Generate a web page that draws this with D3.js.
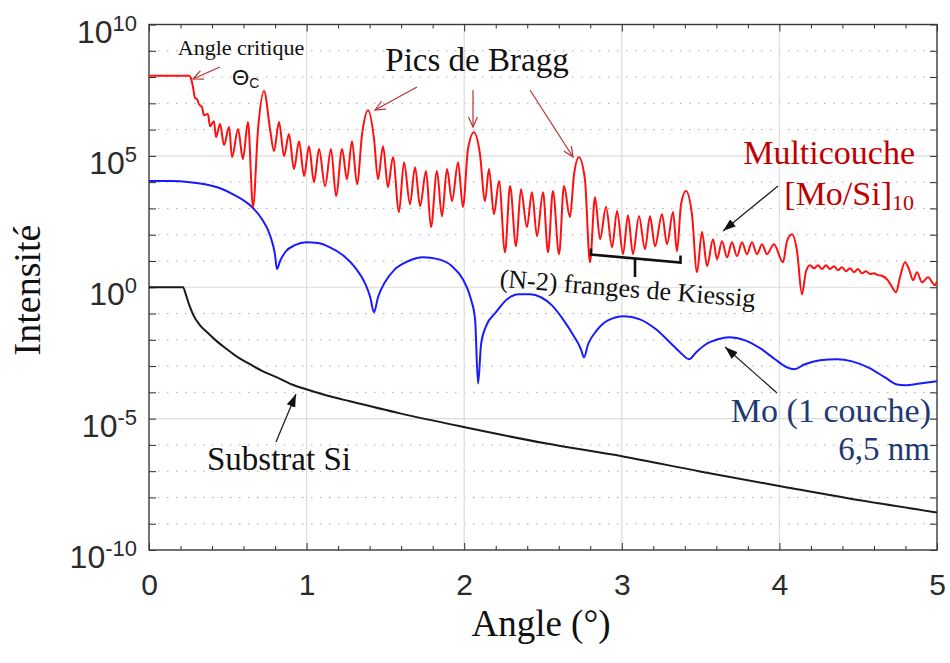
<!DOCTYPE html>
<html><head><meta charset="utf-8">
<script src="https://cdn.jsdelivr.net/npm/d3@7"></script>
<style>body{margin:0;background:#fff}</style>
</head><body>
<svg id="c" width="950" height="663"></svg>
<script>
// ---------- DATA ----------
const xTicks = [0, 1, 2, 3, 4, 5];
const xTickLabels = ["0", "1", "2", "3", "4", "5"];
const yTickExps = [-10, -5, 0, 5, 10];

// Multicouche [Mo/Si]10 : angle (°) and log10(intensity)
const redAngle = [0,0.254,0.266,0.279,0.292,0.305,0.317,0.336,0.349,0.374,0.387,0.412,0.425,0.451,0.476,0.508,0.527,0.565,0.596,0.628,0.660,0.692,0.730,0.768,0.793,0.825,0.857,0.888,0.920,0.952,0.984,1.015,1.047,1.079,1.117,1.155,1.187,1.225,1.256,1.288,1.320,1.352,1.390,1.428,1.453,1.485,1.516,1.548,1.586,1.618,1.656,1.688,1.720,1.758,1.789,1.827,1.859,1.891,1.923,1.961,1.992,2.024,2.062,2.100,2.132,2.157,2.189,2.221,2.259,2.291,2.329,2.360,2.398,2.430,2.462,2.500,2.532,2.563,2.602,2.633,2.671,2.697,2.728,2.766,2.798,2.830,2.862,2.900,2.938,2.970,3.008,3.039,3.071,3.109,3.147,3.179,3.211,3.255,3.287,3.325,3.350,3.376,3.407,3.445,3.477,3.509,3.541,3.579,3.604,3.636,3.668,3.699,3.731,3.763,3.794,3.826,3.858,3.890,3.921,3.965,4.023,4.048,4.080,4.112,4.143,4.169,4.194,4.220,4.245,4.270,4.296,4.321,4.346,4.372,4.397,4.423,4.448,4.473,4.499,4.524,4.550,4.575,4.600,4.626,4.657,4.683,4.708,4.740,4.765,4.797,4.822,4.848,4.873,4.905,4.943,4.987,5.0];
const redLog = [8.05,8.05,7.96,7.62,7.20,7.16,6.97,6.86,6.55,6.59,6.13,6.32,5.71,6.21,5.41,6.10,4.95,6.02,4.88,6.29,3.05,6.02,7.47,6.02,5.18,6.29,4.99,5.83,4.50,5.56,4.23,5.37,4.00,5.26,3.85,5.26,3.47,5.26,4.11,5.56,3.92,5.83,6.74,5.64,4.11,5.37,3.81,4.95,2.86,4.76,3.16,4.57,3.09,4.42,2.29,4.42,2.70,4.50,3.28,4.76,3.05,5.26,5.90,5.07,3.28,4.50,2.78,4.04,1.33,3.85,1.56,3.73,2.29,3.62,1.94,3.62,1.33,3.66,1.26,3.85,2.67,4.30,4.95,4.11,0.95,3.43,1.83,3.05,1.52,2.90,1.26,2.74,1.26,2.70,1.45,2.70,1.56,2.78,1.64,2.86,1.37,3.16,3.66,2.78,0.57,2.10,0.80,1.83,1.07,1.75,1.14,1.71,1.18,1.71,1.26,1.71,1.26,1.64,1.26,1.64,0.95,1.75,2.02,1.37,-0.27,0.61,0.84,0.72,0.84,0.69,0.84,0.69,0.80,0.65,0.76,0.61,0.72,0.57,0.69,0.53,0.61,0.50,0.53,0.46,0.42,0.30,0.08,-0.19,0.38,0.95,0.69,0.27,0.57,0.19,0.38,0.08,0.23];

// Mo (1 couche) 6,5 nm
const blueAngle = [0,0.133,0.260,0.355,0.451,0.546,0.641,0.717,0.768,0.799,0.812,0.831,0.869,0.926,0.996,1.072,1.148,1.231,1.307,1.371,1.402,1.428,1.453,1.497,1.561,1.643,1.739,1.834,1.923,1.992,2.043,2.069,2.088,2.107,2.138,2.202,2.272,2.348,2.418,2.487,2.557,2.627,2.697,2.741,2.760,2.786,2.836,2.912,3.014,3.115,3.217,3.306,3.376,3.426,3.471,3.534,3.610,3.680,3.782,3.877,3.972,4.048,4.093,4.162,4.258,4.365,4.461,4.562,4.670,4.746,4.797,4.892,5.0];
const blueLog = [4.04,4.04,4.00,3.92,3.77,3.50,3.12,2.59,1.98,1.26,0.69,0.99,1.37,1.60,1.71,1.68,1.52,1.22,0.76,0.15,-0.34,-0.95,-0.38,0.19,0.69,0.99,1.14,1.07,0.80,0.30,-0.46,-1.22,-3.66,-2.17,-1.49,-0.95,-0.46,-0.27,-0.27,-0.38,-0.69,-1.22,-1.87,-2.36,-2.67,-2.17,-1.68,-1.26,-1.10,-1.22,-1.60,-2.10,-2.51,-2.74,-2.48,-2.17,-1.98,-1.90,-2.02,-2.32,-2.74,-3.05,-3.12,-2.93,-2.78,-2.74,-2.82,-3.05,-3.43,-3.70,-3.73,-3.66,-3.58];

// Substrat Si
const blackAngle = [0,0.216,0.235,0.254,0.279,0.324,0.368,0.431,0.495,0.565,0.641,0.723,0.812,0.907,1.003,1.148,1.275,1.593,2.005,2.513,3.008,3.496,4.016,4.511,5.0];
const blackLog = [0,0,-0.30,-0.65,-1.03,-1.45,-1.71,-2.06,-2.36,-2.67,-2.93,-3.20,-3.43,-3.70,-3.89,-4.15,-4.34,-4.80,-5.33,-5.94,-6.44,-7.01,-7.58,-8.11,-8.57];

// ---------- CHART ----------
const svg = d3.select("#c");
const X0 = 149, X1 = 937, Y0 = 24.5, Y1 = 550;
const x = d3.scaleLinear().domain([0, 5]).range([X0, X1]);
const y = d3.scaleLog().domain([1e-10, 1e10]).range([Y1, Y0]);
const SANS = "'Liberation Sans', Arial, Helvetica, sans-serif";
const SERIF = "'Liberation Serif', 'Times New Roman', serif";
const AX = "#2b2b2b";

const defs = svg.append("defs");
defs.append("clipPath").attr("id", "clip").append("rect")
  .attr("x", X0).attr("y", Y0).attr("width", X1 - X0).attr("height", Y1 - Y0);
defs.append("marker").attr("id", "openRed").attr("markerUnits", "userSpaceOnUse")
  .attr("markerWidth", 14).attr("markerHeight", 12).attr("refX", 11).attr("refY", 6)
  .attr("orient", "auto").append("path").attr("d", "M1,1.5 L11,6 L1,10.5")
  .attr("fill", "none").attr("stroke", "#b83232").attr("stroke-width", 1.2);
defs.append("marker").attr("id", "fillBlack").attr("markerUnits", "userSpaceOnUse")
  .attr("markerWidth", 14).attr("markerHeight", 12).attr("refX", 13).attr("refY", 6)
  .attr("orient", "auto").append("path").attr("d", "M0,1.5 L13,6 L0,10.5 Z")
  .attr("fill", "#111");

// grid
const decades = d3.range(-9, 10);
svg.append("g").selectAll("line").data(decades).join("line")
  .attr("x1", X0).attr("x2", X1)
  .attr("y1", d => y(10 ** d)).attr("y2", d => y(10 ** d))
  .attr("stroke", d => d % 5 === 0 ? "#dcdcdc" : "#a8a8a8")
  .attr("stroke-width", d => d % 5 === 0 ? 1.2 : 1)
  .attr("stroke-dasharray", d => d % 5 === 0 ? null : "1.5,7.5");
svg.append("g").selectAll("line").data(xTicks.slice(1, -1)).join("line")
  .attr("x1", d => x(d)).attr("x2", d => x(d)).attr("y1", Y0).attr("y2", Y1)
  .attr("stroke", "#dcdcdc").attr("stroke-width", 1.2);

// axes (inward ticks, box)
const minorX = d3.range(0, 5.0001, 0.2).filter(v => Math.abs(v - Math.round(v)) > 1e-6);
const allDec = d3.range(-10, 11).map(e => 10 ** e);
function styleAxis(g) {
  g.select(".domain").remove();
  g.selectAll(".tick line").attr("stroke", AX).attr("stroke-width", 1);
}
svg.append("g").attr("transform", `translate(0,${Y1})`)
  .call(d3.axisBottom(x).tickValues(xTicks).tickSize(-7).tickPadding(24)
    .tickFormat((d, i) => xTickLabels[i]))
  .call(styleAxis)
  .call(g => g.selectAll("text").attr("font-family", SANS).attr("font-size", 30).attr("fill", AX));
svg.append("g").attr("transform", `translate(0,${Y1})`)
  .call(d3.axisBottom(x).tickValues(minorX).tickSize(-4).tickFormat("")).call(styleAxis);
svg.append("g").attr("transform", `translate(0,${Y0})`)
  .call(d3.axisTop(x).tickValues(xTicks).tickSize(-7).tickFormat("")).call(styleAxis);
svg.append("g").attr("transform", `translate(0,${Y0})`)
  .call(d3.axisTop(x).tickValues(minorX).tickSize(-4).tickFormat("")).call(styleAxis);
svg.append("g").attr("transform", `translate(${X0},0)`)
  .call(d3.axisLeft(y).tickValues(allDec).tickSize(-7).tickFormat("")).call(styleAxis);
svg.append("g").attr("transform", `translate(${X1},0)`)
  .call(d3.axisRight(y).tickValues(allDec).tickSize(-7).tickFormat("")).call(styleAxis);
svg.append("rect").attr("x", X0).attr("y", Y0).attr("width", X1 - X0).attr("height", Y1 - Y0)
  .attr("fill", "none").attr("stroke", "#3a3a3a").attr("stroke-width", 1.4);

// y tick labels with superscripts
const yl = svg.append("g").selectAll("text").data(yTickExps).join("text")
  .attr("x", 137).attr("y", d => y(10 ** d) + 18)
  .attr("text-anchor", "end").attr("font-family", SANS).attr("fill", AX);
yl.append("tspan").attr("font-size", 32).text("10");
yl.append("tspan").attr("font-size", 22).attr("dy", -12).text(d => String(d));

// curves
const line = d3.line().x(d => x(d[0])).y(d => y(10 ** d[1])).curve(d3.curveMonotoneX);
const plot = svg.append("g").attr("clip-path", "url(#clip)");
plot.append("path").datum(d3.zip(blackAngle, blackLog)).attr("d", line)
  .attr("fill", "none").attr("stroke", "#1a1a1a").attr("stroke-width", 2);
plot.append("path").datum(d3.zip(blueAngle, blueLog)).attr("d", line)
  .attr("fill", "none").attr("stroke", "#1a1aff").attr("stroke-width", 2);
plot.append("path").datum(d3.zip(redAngle, redLog)).attr("d", line)
  .attr("fill", "none").attr("stroke", "#ff1010").attr("stroke-width", 2).attr("stroke-linejoin", "round");

// axis titles
svg.append("text").attr("transform", "translate(40,290) rotate(-90)")
  .attr("text-anchor", "middle").attr("font-family", SERIF).attr("font-size", 38)
  .attr("fill", "#111").text("Intensité");
svg.append("text").attr("x", 541).attr("y", 636).attr("text-anchor", "middle")
  .attr("font-family", SERIF).attr("font-size", 37).attr("fill", "#111").text("Angle (°)");

// annotations
function arrow(x1, y1, x2, y2, color, marker, w) {
  svg.append("line").attr("x1", x1).attr("y1", y1).attr("x2", x2).attr("y2", y2)
    .attr("stroke", color).attr("stroke-width", w).attr("marker-end", `url(#${marker})`);
}
svg.append("text").attr("x", 241).attr("y", 55).attr("text-anchor", "middle")
  .attr("font-family", SERIF).attr("font-size", 22).attr("fill", "#111").text("Angle critique");
const th = svg.append("text").attr("x", 232).attr("y", 85).attr("font-family", SANS).attr("fill", "#111");
th.append("tspan").attr("font-size", 22).text("Θ");
th.append("tspan").attr("font-size", 14).attr("dy", 3).text("C");
arrow(220, 67, 193, 79, "#b83232", "openRed", 1.2);

svg.append("text").attr("x", 477).attr("y", 71).attr("text-anchor", "middle")
  .attr("font-family", SERIF).attr("font-size", 33).attr("fill", "#111").text("Pics de Bragg");
arrow(417, 87, 375, 110, "#b83232", "openRed", 1.2);
arrow(473, 90, 473, 127, "#b83232", "openRed", 1.2);
arrow(530, 90, 573, 157, "#b83232", "openRed", 1.2);

svg.append("text").attr("x", 915).attr("y", 164).attr("text-anchor", "end")
  .attr("font-family", SERIF).attr("font-size", 34).attr("fill", "#c00000").text("Multicouche");
const ms = svg.append("text").attr("x", 914).attr("y", 205).attr("text-anchor", "end")
  .attr("font-family", SERIF).attr("fill", "#c00000");
ms.append("tspan").attr("font-size", 34).text("[Mo/Si]");
ms.append("tspan").attr("font-size", 22).attr("dy", 5).text("10");
arrow(778, 186, 723, 231, "#222", "fillBlack", 1.3);

// bracket for Kiessig fringes
svg.append("path").attr("d", "M591,248.5 L591,254.5 L680.5,262.5 L680.5,255.5 M635,258.5 L635,277")
  .attr("fill", "none").attr("stroke", "#111").attr("stroke-width", 2.6);
svg.append("text").attr("transform", "translate(627,297) rotate(4.5)")
  .attr("text-anchor", "middle").attr("font-family", SERIF).attr("font-size", 26)
  .attr("fill", "#111").text("(N-2) franges de Kiessig");

svg.append("text").attr("x", 931).attr("y", 422).attr("text-anchor", "end")
  .attr("font-family", SERIF).attr("font-size", 34).attr("fill", "#1f3a73").text("Mo (1 couche)");
svg.append("text").attr("x", 930).attr("y", 460).attr("text-anchor", "end")
  .attr("font-family", SERIF).attr("font-size", 33).attr("fill", "#1f3a73").text("6,5 nm");
arrow(777, 393, 725, 347, "#222", "fillBlack", 1.3);

svg.append("text").attr("x", 207).attr("y", 470)
  .attr("font-family", SERIF).attr("font-size", 33).attr("fill", "#111").text("Substrat Si");
arrow(276, 442, 296, 394, "#222", "fillBlack", 1.3);
</script>
</body></html>
